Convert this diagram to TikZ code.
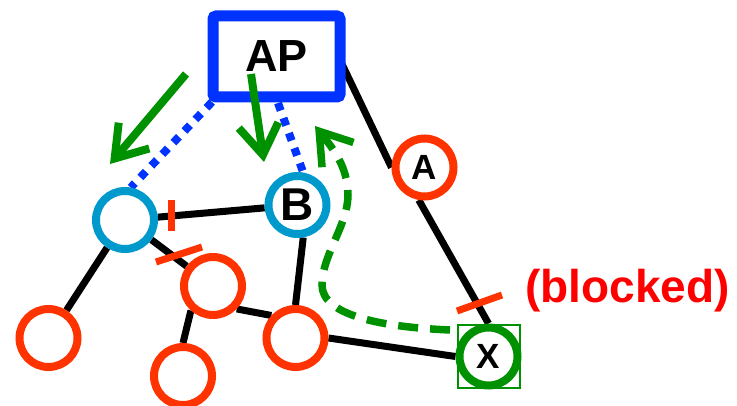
\documentclass[tikz,border=0pt]{standalone}
\usepackage{fontspec}
\setmainfont{Liberation Sans}
\usetikzlibrary{arrows.meta,backgrounds}
\definecolor{apblue}{HTML}{0033FF}
\definecolor{cyanb}{HTML}{0099CC}
\definecolor{nred}{HTML}{FF3300}
\definecolor{tred}{HTML}{FF0000}
\definecolor{grn}{HTML}{009100}
\begin{document}
\begin{tikzpicture}[x=1pt,y=-1pt,
  apbox/.style={draw=apblue,line width=11pt,rounded corners=3pt,minimum width=127pt,minimum height=81pt,inner sep=0pt,font=\bfseries\fontsize{45}{50}\selectfont},
  basenode/.style={circle,fill=white,line width=8pt,minimum size=58pt,inner sep=0pt},
  stanode/.style={basenode,draw=cyanb},
  rnode/.style={basenode,draw=nred},
  xnode/.style={basenode,draw=grn},
  xbox/.style={draw=grn,line width=2pt,minimum size=62pt,inner sep=0pt},
  link/.style={line width=7pt,black},
  wlink/.style={line width=8pt,apblue,dash pattern=on 8pt off 8pt},
  marktick/.style={line width=7pt,nred},
  garrow/.style={line width=8pt,grn,-{Straight Barb[length=30pt,width=40pt]}},
  gdash/.style={line width=7.5pt,grn,dash pattern=on 20pt off 12pt,-{Straight Barb[length=30pt,width=40pt]}},
  bigfont/.style={font=\bfseries\fontsize{46}{50}\selectfont},
  smallfont/.style={font=\bfseries\fontsize{35}{40}\selectfont}
]
\useasboundingbox (0,0) rectangle (737,406);

% nodes
\node[apbox] (ap) at (276.5,56.5) {\raisebox{-2.5pt}{AP}};
\node[stanode] (L) at (125,220) {};
\node[stanode,bigfont] (B) at (297.5,205) {B};
\node[rnode,smallfont] (A) at (424.5,167.5) {A};
\node[xbox] (xb) at (488.5,356.5) {};
\node[xnode,smallfont] (X) at (488.5,356.5) {X};
\node[rnode] (R1) at (48.5,338) {};
\node[rnode] (R2) at (213,286) {};
\node[rnode] (R3) at (183,376) {};
\node[rnode] (R4) at (295.5,338) {};
\node[anchor=base west,text=tred,font=\bfseries\fontsize{46}{50}\selectfont,inner sep=0pt] (blk) at (525,303) {(blocked)};

\coordinate (apR) at (341,62);
\coordinate (apBL) at (212,102);
\coordinate (apB) at (278,103);

\begin{pgfonlayer}{background}
  \draw[link] (L) -- (R1);
  \draw[link] (L) -- (B);
  \draw[link] (L) -- (R2);
  \draw[link] (R2.228) -- (R3.north);
  \draw[link] (R2.-44) -- (R4.137);
  \draw[link] (B.-80) -- (R4.north);
  \draw[link] (R4.east) -- (X.west);
  \draw[link] (apR) -- (A.west);
  \draw[link] (A.-100) -- (X.north);
  \draw[wlink] (apBL) -- (L.80);
  \draw[wlink] (apB) -- (B.80);
\end{pgfonlayer}

% blocking ticks
\coordinate (t1a) at (171,200); \coordinate (t1b) at (171,231);
\coordinate (t2a) at (156,262); \coordinate (t2b) at (202,247);
\coordinate (t3a) at (457,311); \coordinate (t3b) at (502,295);
\draw[marktick] (t1a) -- (t1b);
\draw[marktick] (t2a) -- (t2b);
\draw[marktick] (t3a) -- (t3b);

% green arrows
\coordinate (g1s) at (186,74); \coordinate (g1e) at (110,164);
\coordinate (g2s) at (251,74); \coordinate (g2e) at (264,162);
\draw[garrow] (g1s) -- (g1e);
\draw[garrow] (g2s) -- (g2e);

\coordinate (gds) at (450,330); \coordinate (gde) at (315,126);
\draw[gdash] (gds) .. controls (380,327) and (322,315) .. (322,285)
  .. controls (322,255) and (348,225) .. (348,195)
  .. controls (348,165) and (330,145) .. (gde);
\end{tikzpicture}
\end{document}
